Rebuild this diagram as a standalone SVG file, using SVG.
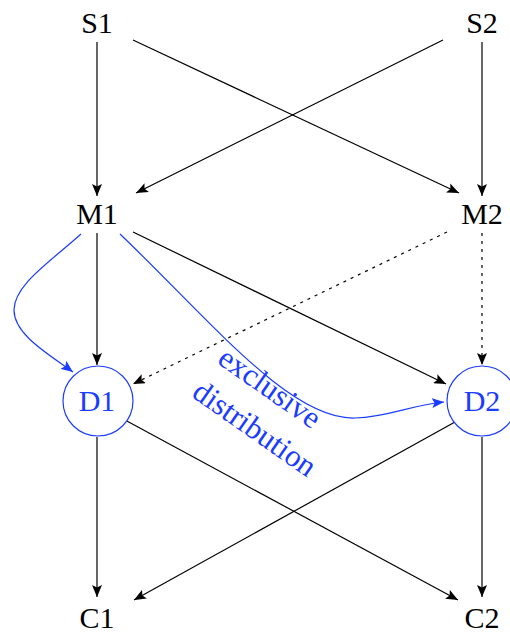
<svg xmlns="http://www.w3.org/2000/svg" width="510" height="635" viewBox="0 0 510 635" font-family="'Liberation Serif', 'DejaVu Serif', serif">
<style>
text{font-family:'Liberation Serif','DejaVu Serif',serif;font-size:30px;text-anchor:middle;fill:#000}
.b text,text.b{fill:#1a3cff}
text.lab{font-size:31px}
.e{stroke:#000;stroke-width:1.2;fill:none;marker-end:url(#ah)}
.d{stroke-dasharray:3,5}
.be{stroke:#1a3cff;stroke-width:1.2;fill:none;marker-end:url(#bh)}
circle{fill:#fff;stroke:#1a3cff;stroke-width:1.2}
</style>
<defs>
<marker id="ah" viewBox="0 0 12 10" refX="12" refY="5" markerWidth="12" markerHeight="10" markerUnits="userSpaceOnUse" orient="auto"><path d="M0,0 L12,5 L0,10 L2.5,5 z" fill="#000"/></marker>
<marker id="bh" viewBox="0 0 12 10" refX="12" refY="5" markerWidth="12" markerHeight="10" markerUnits="userSpaceOnUse" orient="auto"><path d="M0,0 L12,5 L0,10 L2.5,5 z" fill="#1a3cff"/></marker>
</defs>
<g id="connectors">
<path class="e" d="M97,42 L97,196"/>
<path class="e" d="M482,42 L482,196"/>
<path class="e" d="M133,40 L459,193"/>
<path class="e" d="M443,40 L136,193"/>
<path class="e" d="M97,233 L97,365"/>
<path class="e d" d="M482,233 L482,365"/>
<path class="e" d="M133,232 L446,384"/>
<path class="e d" d="M447,232 L133,384"/>
<path class="e" d="M97,437 L97,597"/>
<path class="e" d="M482,437 L482,597"/>
<path class="e" d="M125,420 L458,600"/>
<path class="e" d="M455,422 L134,600"/>
<path class="be" d="M81,234 C50,262 14,285 14,310 C14,335 50,355 73,372"/>
<path class="be" d="M120,234 C210,320 290,420 355,418 C390,417 410,405 444,402"/>
<text class="b lab" transform="translate(264,396) rotate(35)">exclusive</text>
<text class="b lab" transform="translate(249,437) rotate(35)">distribution</text>
</g>
<g id="S1"><text x="97" y="33">S1</text></g>
<g id="S2"><text x="482" y="33">S2</text></g>
<g id="M1"><text x="97" y="224">M1</text></g>
<g id="M2"><text x="482" y="224">M2</text></g>
<g id="D1" class="b"><circle cx="98" cy="401" r="35"/><text x="97" y="411">D1</text></g>
<g id="D2" class="b"><circle cx="482" cy="401" r="35"/><text x="482" y="411">D2</text></g>
<g id="C1"><text x="97" y="628">C1</text></g>
<g id="C2"><text x="482" y="628">C2</text></g>
</svg>
